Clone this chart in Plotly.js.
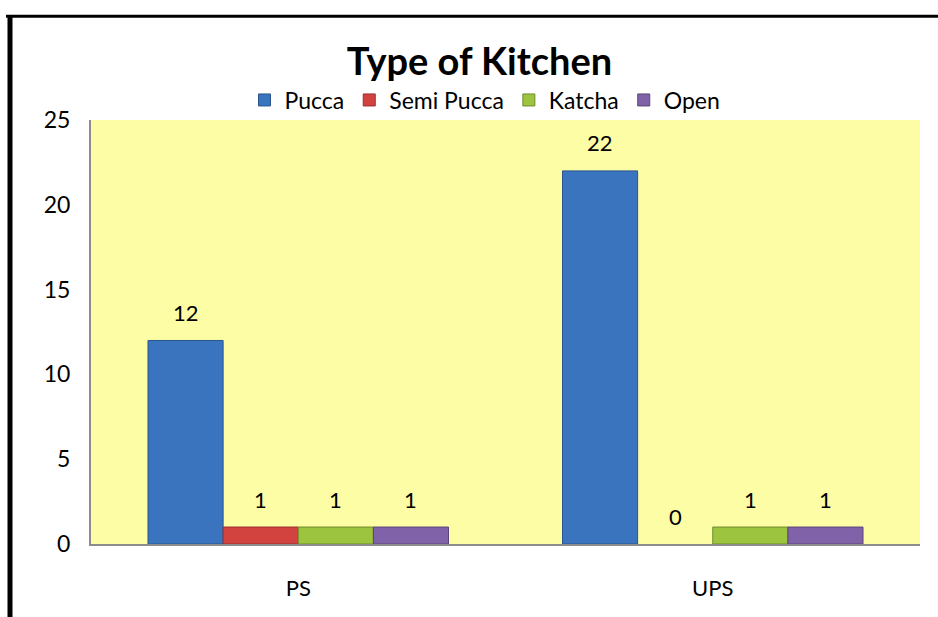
<!DOCTYPE html>
<html>
<head>
<meta charset="utf-8">
<script src="https://cdn.plot.ly/plotly-3.0.1.min.js"></script>
<style>
html,body{margin:0;padding:0;background:#fff;}
#chart{width:938px;height:617px;}
</style>
</head>
<body>
<div id="chart"></div>
<script>
// ---- data ----
const categories = ["PS", "UPS"];
const seriesNames = ["Pucca", "Semi Pucca", "Katcha", "Open"];
const pucca = [12, 22];
const semiPucca = [1, 0];
const katcha = [1, 1];
const open = [1, 1];
const yTicks = [0, 5, 10, 15, 20, 25];

// ---- styles ----
const fills = ["#3a74bf", "#d2423f", "#9cc43f", "#8062a8"];
const edges = ["#2a568f", "#9a2f2d", "#6f8c2b", "#5a4478"];
const values = [pucca, semiPucca, katcha, open];
const W = 938, H = 617;
const M = {l: 91, r: 18, t: 120, b: 73};
const bargap = 0.275;
const FONT = "Lato, 'Liberation Sans', sans-serif";

const traces = values.map((v, i) => ({
  type: "bar",
  name: seriesNames[i],
  x: categories,
  y: v,
  marker: {color: fills[i], line: {color: edges[i], width: v.map(d => d === 0 ? 0 : 1)}},
  hoverinfo: "x+y+name"
}));

// data labels above bars, positioned through the category axis
const nSeries = values.length;
const barW = (1 - bargap) / nSeries;
const annotations = [];
values.forEach((v, i) => {
  v.forEach((val, j) => {
    annotations.push({
      xref: "x", yref: "y",
      x: j + (i - (nSeries - 1) / 2) * barW,
      y: val,
      text: String(val),
      showarrow: false,
      yshift: 28,
      font: {family: FONT, size: 22, color: "#000"}
    });
  });
});

// chart frame lines (top & left), in paper coords
const pw = W - M.l - M.r, ph = H - M.t - M.b;
const px = x => (x - M.l) / pw;
const py = y => (H - M.b - y) / ph;
const shapes = [
  {type: "line", xref: "paper", yref: "paper", x0: px(6), x1: px(940), y0: py(16.3), y1: py(16.3), line: {color: "#000", width: 3}},
  {type: "line", xref: "paper", yref: "paper", x0: px(10), x1: px(10), y0: py(15), y1: py(620), line: {color: "#000", width: 5}}
];

const layout = {
  width: W, height: H,
  margin: M,
  paper_bgcolor: "#ffffff",
  plot_bgcolor: "#fdfda6",
  barmode: "group",
  bargap: bargap,
  bargroupgap: 0,
  title: {
    text: "<b>Type of Kitchen</b>",
    font: {family: FONT, size: 38, color: "#000"},
    x: 479.5 / W, xanchor: "center",
    y: 1 - 62 / H, yanchor: "middle"
  },
  showlegend: true,
  legend: {
    orientation: "h",
    x: px(485), xanchor: "center",
    y: py(100), yanchor: "middle",
    font: {family: FONT, size: 23, color: "#000"},
    itemwidth: 30,
    tracegroupgap: 0,
    bgcolor: "rgba(0,0,0,0)"
  },
  xaxis: {
    type: "category",
    showgrid: false,
    showline: true, linecolor: "#8c8c8c", linewidth: 2,
    ticks: "", ticklabelstandoff: 24,
    tickfont: {family: FONT, size: 22, color: "#000"},
    fixedrange: true
  },
  yaxis: {
    range: [0, 25],
    tickvals: yTicks,
    showgrid: false, zeroline: false,
    showline: true, linecolor: "#8c8c8c", linewidth: 2,
    ticks: "outside", ticklen: 14, tickcolor: "rgba(0,0,0,0)",
    tickfont: {family: FONT, size: 23, color: "#000"},
    fixedrange: true
  },
  annotations: annotations,
  shapes: shapes
};

Plotly.newPlot("chart", traces, layout, {displayModeBar: false, staticPlot: true});
</script>
</body>
</html>
